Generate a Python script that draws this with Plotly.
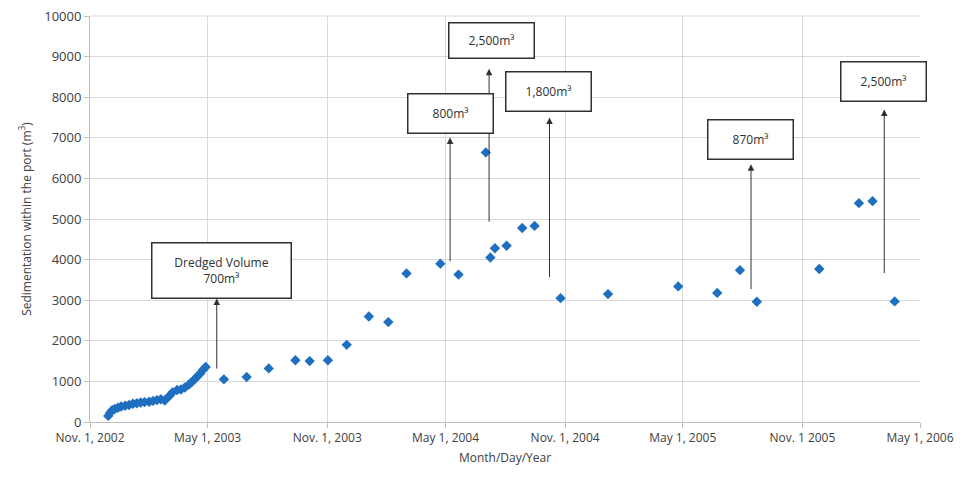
import plotly.graph_objects as go

# ---- data ----
dates = [
    "2002-11-29", "2002-12-02", "2002-12-05", "2002-12-09", "2002-12-14", "2002-12-19",
    "2002-12-25", "2002-12-31", "2003-01-06", "2003-01-12", "2003-01-18", "2003-01-24",
    "2003-01-31", "2003-02-06", "2003-02-12", "2003-02-18", "2003-02-24", "2003-03-03",
    "2003-03-08", "2003-03-15", "2003-03-21", "2003-03-27", "2003-04-02", "2003-04-06",
    "2003-04-11", "2003-04-15", "2003-04-20", "2003-04-24", "2003-04-28",
    "2003-05-26", "2003-06-30", "2003-08-03", "2003-09-13", "2003-10-05", "2003-11-02",
    "2003-12-01", "2004-01-04", "2004-02-03", "2004-03-02", "2004-04-23", "2004-05-21",
    "2004-07-02", "2004-07-09", "2004-07-16", "2004-08-03", "2004-08-27", "2004-09-15",
    "2004-10-25", "2005-01-06", "2005-04-24", "2005-06-23", "2005-07-28", "2005-08-23",
    "2005-11-27", "2006-01-27", "2006-02-17", "2006-03-23",
]
sediment = [
    150, 230, 290, 320, 350, 380,
    400, 420, 450, 460, 480, 490,
    500, 520, 540, 560, 530, 640,
    730, 790, 800, 850, 920, 980,
    1050, 1120, 1200, 1290, 1355,
    1050, 1110, 1320, 1520, 1500, 1520,
    1900, 2600, 2460, 3660, 3900, 3630,
    6640, 4050, 4280, 4340, 4780, 4830,
    3050, 3150, 3340, 3180, 3740, 2960,
    3770, 5390, 5440, 2970,
]

tick_dates = ["2002-11-01", "2003-05-01", "2003-11-01", "2004-05-01",
              "2004-11-01", "2005-05-01", "2005-11-01", "2006-05-01"]
tick_labels = ["Nov. 1, 2002", "May 1, 2003", "Nov. 1, 2003", "May 1, 2004",
               "Nov. 1, 2004", "May 1, 2005", "Nov. 1 2005", "May 1, 2006"]
y_ticks = [0, 1000, 2000, 3000, 4000, 5000, 6000, 7000, 8000, 9000, 10000]

# dredging annotations
dredge_dates = ["2003-05-15", "2004-05-08", "2004-07-07", "2004-10-08", "2005-08-14", "2006-03-07"]
dredge_text = ["Dredged Volume<br>700m³", "800m³", "2,500m³", "1,800m³", "870m³", "2,500m³"]
arrow_tail = [1280, 3920, 4900, 3530, 3235, 3630]
arrow_head = [3040, 7010, 8700, 7500, 6350, 7700]
box_center_dates = ["2003-05-23", "2004-05-09", "2004-07-10", "2004-10-06", "2005-08-13", "2006-03-06"]
box_center_vals = [3720, 7600, 9390, 8150, 6960, 8380]
box_w = [136, 82, 82, 82, 82, 82]
box_h = [52, 36, 32, 36, 36, 36]

fig = go.Figure()
fig.add_trace(go.Scatter(
    x=dates, y=sediment, mode="markers",
    marker=dict(symbol="diamond", size=8, color="#1f6fc0"),
    showlegend=False,
))

annotations = []
for d, t, h in zip(dredge_dates, arrow_tail, arrow_head):
    annotations.append(dict(
        x=d, y=h, ax=d, ay=t, xref="x", yref="y", axref="x", ayref="y",
        text="", showarrow=True, arrowhead=2, arrowsize=1.3, arrowwidth=1,
        arrowcolor="#303030",
    ))
for d, v, txt, w, hh in zip(box_center_dates, box_center_vals, dredge_text, box_w, box_h):
    annotations.append(dict(
        x=d, y=v, xref="x", yref="y", text=txt, showarrow=False,
        width=w, height=hh, bordercolor="#303030", borderwidth=1.5,
        bgcolor="white", font=dict(size=12, color="#303030", family="Open Sans"),
        align="center", valign="middle",
    ))

fig.update_layout(
    width=972, height=483,
    margin=dict(l=82, r=60, t=8, b=69, autoexpand=False),
    paper_bgcolor="white", plot_bgcolor="white",
    font=dict(family="Open Sans", size=12, color="#404040"),
    annotations=annotations,
    shapes=[dict(type="line", xref="paper", yref="paper", x0=0, x1=1, y0=1, y1=1,
                 line=dict(color="#d9d9d9", width=1), layer="below")],
    xaxis=dict(
        type="date", automargin=False,
        range=["2002-11-01", "2006-05-01"],
        tickvals=tick_dates, ticktext=tick_labels,
        showgrid=True, gridcolor="#d9d9d9", gridwidth=1,
        showline=True, linecolor="#bfbfbf", linewidth=1,
        ticks="outside", ticklen=5, tickcolor="#bfbfbf",
        tickfont=dict(size=12, color="#404040"),
        ticklabeloverflow="allow",
        title=dict(text="Month/Day/Year", font=dict(size=12, color="#404040"), standoff=8),
        zeroline=False,
    ),
    yaxis=dict(
        automargin=False,
        range=[0, 10000], tickmode="array", tickvals=y_ticks,
        ticktext=[str(v) for v in y_ticks],
        showgrid=True, gridcolor="#d9d9d9", gridwidth=1,
        showline=True, linecolor="#bfbfbf", linewidth=1, mirror=False,
        ticks="outside", ticklen=5, tickcolor="#bfbfbf",
        tickfont=dict(size=13, color="#404040"),
        ticklabeloverflow="allow",
        title=dict(text="Sedimentation within the port (m<sup>3</sup>)",
                   font=dict(size=12, color="#404040"), standoff=10),
        zeroline=False,
    ),
)

fig.write_html("out.html")
